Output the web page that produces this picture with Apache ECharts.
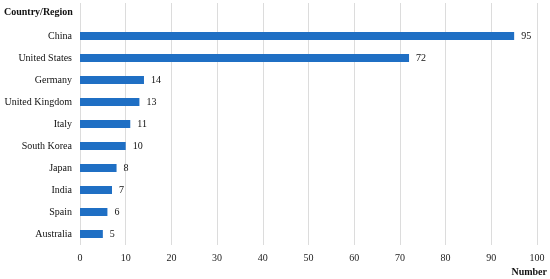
<!DOCTYPE html>
<html>
<head>
    <meta charset="utf-8">
    <title>Country/Region</title>
    <script src="https://cdn.jsdelivr.net/npm/echarts@6/dist/echarts.min.js"></script>
    <style>
        body { margin: 0; background: #fff; }
        #main { width: 550px; height: 279px; }
    </style>
</head>
<body>
    <div id="main"></div>
    <script>
        var categories = ['China', 'United States', 'Germany', 'United Kingdom', 'Italy',
            'South Korea', 'Japan', 'India', 'Spain', 'Australia'];
        var values = [95, 72, 14, 13, 11, 10, 8, 7, 6, 5];
        var xTicks = [0, 10, 20, 30, 40, 50, 60, 70, 80, 90, 100];

        var serif = '"Liberation Serif", "DejaVu Serif", serif';

        // blank slot on top so gridlines run up under the axis title, like the original
        var yData = [''].concat(categories);
        var barData = ['-'].concat(values);

        var chart = echarts.init(document.getElementById('main'));
        chart.setOption({
            animation: false,
            textStyle: { fontFamily: serif },
            title: [{
                text: 'Country/Region',
                left: -1, top: 2,
                textStyle: { fontFamily: serif, fontSize: 10, fontWeight: 'bold', color: '#111' }
            }, {
                text: 'Number',
                right: -2, top: 262,
                textStyle: { fontFamily: serif, fontSize: 10, fontWeight: 'bold', color: '#111' }
            }],
            grid: { left: 80, right: 13, top: 3, bottom: 34, outerBoundsMode: 'none' },
            xAxis: {
                type: 'value',
                min: xTicks[0],
                max: xTicks[xTicks.length - 1],
                interval: 10,
                axisLine: { show: false },
                axisTick: { show: false },
                axisLabel: { color: '#222', fontSize: 10, fontFamily: serif, margin: 8 },
                splitLine: { lineStyle: { color: '#dcdcdc', width: 1 } }
            },
            yAxis: {
                type: 'category',
                inverse: true,
                data: yData,
                axisLine: { show: false },
                axisTick: { show: false },
                axisLabel: { color: '#111', fontSize: 10, fontFamily: serif, margin: 8 }
            },
            series: [{
                type: 'bar',
                data: barData,
                barWidth: 8,
                itemStyle: { color: '#1f6fc4' },
                label: {
                    show: true,
                    position: 'right',
                    distance: 7,
                    color: '#111',
                    fontSize: 10,
                    fontFamily: serif
                }
            }]
        });
    </script>
</body>
</html>
